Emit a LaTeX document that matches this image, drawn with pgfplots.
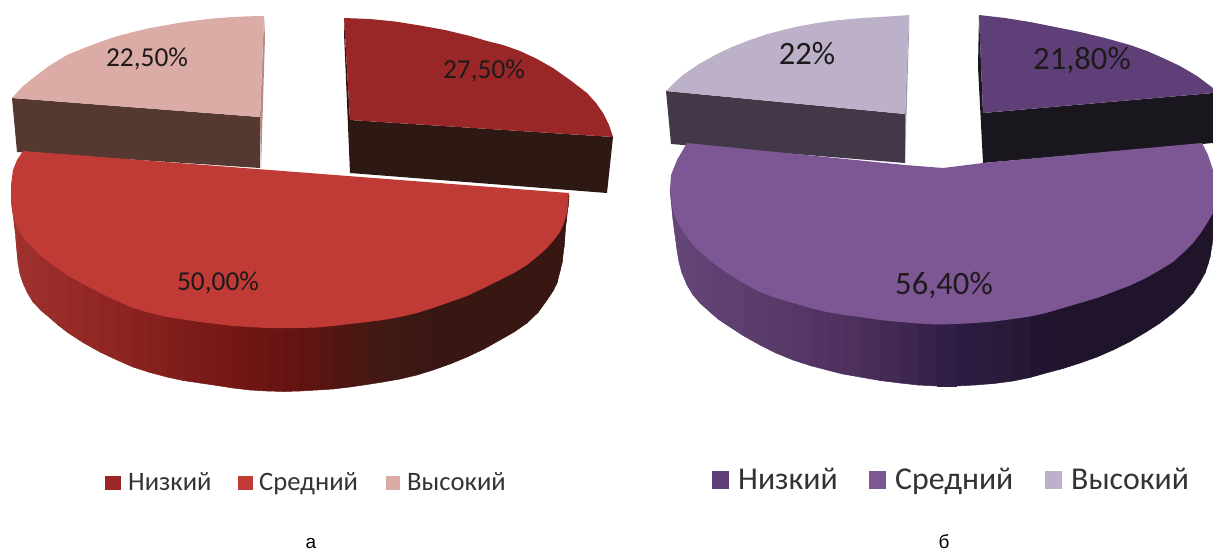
\documentclass[border=0pt]{standalone}
\usepackage{pgfplots}
\usepgfplotslibrary{patchplots}
\pgfplotsset{compat=1.18}
\usepackage{fontspec}
\setmainfont{Carlito}
\newfontfamily\capfont{Liberation Sans}
\definecolor{redlow}{HTML}{9A2727}
\definecolor{redmid}{HTML}{C03A36}
\definecolor{redhigh}{HTML}{DBACA6}
\definecolor{redside}{HTML}{553830}
\definecolor{reddark}{HTML}{2E1813}
\definecolor{redthin}{HTML}{B58C84}
\definecolor{vioslow}{HTML}{5F3F78}
\definecolor{viosmid}{HTML}{7D5694}
\definecolor{vioshigh}{HTML}{BDB0C9}
\definecolor{viosside}{HTML}{423848}
\definecolor{viosdark}{HTML}{1A161E}
\definecolor{viosthin}{HTML}{9E93A9}
\definecolor{labelink}{HTML}{1E1A1C}
\definecolor{legendink}{HTML}{333333}
\pgfplotsset{
  colormap={rim}{
    rgb255(0pt)=(163,51,49);
    rgb255(110pt)=(143,38,35);
    rgb255(245pt)=(112,22,20);
    rgb255(300pt)=(98,20,18);
    rgb255(380pt)=(66,24,20);
    rgb255(440pt)=(56,23,18);
    rgb255(620pt)=(56,23,18);
    rgb255(665pt)=(101,71,122);
    rgb255(760pt)=(90,60,108);
    rgb255(860pt)=(76,47,92);
    rgb255(960pt)=(46,28,66);
    rgb255(1015pt)=(40,25,56);
    rgb255(1045pt)=(32,20,46);
    rgb255(1215pt)=(31,20,40)
  }
}
\begin{document}
\begin{tikzpicture}
\begin{axis}[
  scale only axis, width=1213pt, height=552pt,
  xmin=0, xmax=1213, ymin=0, ymax=552, y dir=reverse,
  hide axis, clip=true,
  colormap name=rim, point meta min=0, point meta max=1215,
]
% keep the full drawing area as the picture's extent
\path (axis cs:0,0) rectangle (axis cs:1213,552);
% --- pie a: detached slices ---
\addplot[fill=redside, draw=none] coordinates {(12,98)(260,117)(260,168)(17,152)} --cycle;
\addplot[fill=redthin, draw=none] coordinates {(264,16)(265,37)(261,168)(260,117)} --cycle;
\addplot[fill=redhigh, draw=none] coordinates {(12,98)(22,87)(33,78)(49,66)(67,55)(84,48)(100,42)(116,36.5)(133,32)(150,28)(167,25)(184,22)(200,20)(216,18.2)(233,17)(248,16.3)(264,16)(260,117)} --cycle;
\addplot[fill=reddark, draw=none] coordinates {(350,120)(613,137)(607,193)(350,173)} --cycle;
\addplot[fill=reddark, draw=none] coordinates {(344,18)(344,33)(350,173)(350,120)} --cycle;
\addplot[fill=redlow, draw=none] coordinates {(344,18)(370,19)(395,21.5)(420,25.5)(445,30)(470,36)(487,41)(503,45)(520,51)(537,59)(553,68)(570,80)(587,93)(596,103)(603,113)(609,125)(613,137)(350,120)} --cycle;
% --- pie b: detached slices ---
\addplot[fill=viosside, draw=none] coordinates {(666,91)(905,114)(905,163)(671,144)} --cycle;
\addplot[fill=viosthin, draw=none] coordinates {(909,15)(909,33)(905,163)(905,114)} --cycle;
\addplot[fill=vioshigh, draw=none] coordinates {(666,91)(674,83)(683,75)(699,64)(717,54)(733,46.5)(750,40)(766,34.5)(783,30)(800,26)(817,23)(833,20.7)(850,19)(866,17.8)(883,16.8)(896,16)(909,15)(905,114)} --cycle;
\addplot[fill=viosdark, draw=none] coordinates {(983,113)(1213,93)(1213,143)(1202,144)(983,163)} --cycle;
\addplot[fill=viosdark, draw=none] coordinates {(979,15)(978,67)(983,163)(983,113)} --cycle;
\addplot[fill=vioslow, draw=none] coordinates {(979,15)(1005,18)(1030,22)(1055,27)(1080,32)(1105,38)(1130,45)(1147,51)(1163,58)(1180,66)(1197,76)(1213,88)(1213,93)(983,113)} --cycle;
% --- shaded rims of the large slices, one strip per four points ---
\addplot[patch, patch type=rectangle, shader=faceted, faceted color=mapped color, line width=0.5pt, point meta=x] coordinates {
(11,197)(13,197)(13,214)(11,197)
(13,195)(15,195)(15,230)(13,214)
(15,195)(16.5,195)(16.5,247)(15,230)
(16.5,195)(18,195)(18,263)(16.5,247)
(18,195)(20,195)(20,274)(18,263)
(20,195)(23,195)(23,283)(20,274)
(23,195)(27.5,195)(27.5,293)(23,283)
(27.5,195)(33,195)(33,302)(27.5,293)
(33,195)(41,195)(41,310.5)(33,302)
(41,195)(50,195)(50,318)(41,310.5)
(50,195)(58,195)(58,325)(50,318)
(58,195)(67,195)(67,332)(58,325)
(67,195)(83,195)(83,342.5)(67,332)
(83,195)(100,195)(100,352)(83,342.5)
(100,195)(117,195)(117,360)(100,352)
(117,195)(133,195)(133,367)(117,360)
(133,195)(150,195)(150,372.5)(133,367)
(150,195)(167,195)(167,377)(150,372.5)
(167,195)(183,195)(183,380.5)(167,377)
(183,195)(200,195)(200,383)(183,380.5)
(200,195)(217,195)(217,385.5)(200,383)
(217,195)(233,195)(233,388)(217,385.5)
(233,195)(250,195)(250,390)(233,388)
(250,195)(267,195)(267,391)(250,390)
(267,195)(284,195)(284,391.5)(267,391)
(284,195)(300,195)(300,391)(284,391.5)
(300,195)(317,195)(317,390)(300,391)
(317,195)(333,195)(333,389)(317,390)
(333,195)(350,195)(350,387)(333,389)
(350,195)(367,195)(367,384.5)(350,387)
(367,195)(383,195)(383,382)(367,384.5)
(383,195)(400,195)(400,379)(383,382)
(400,195)(417,195)(417,375)(400,379)
(417,195)(433,195)(433,370)(417,375)
(433,195)(450,195)(450,364)(433,370)
(450,195)(467,195)(467,357)(450,364)
(467,195)(484,195)(484,349)(467,357)
(484,195)(500,195)(500,340)(484,349)
(500,195)(514,195)(514,332)(500,340)
(514,195)(527,195)(527,323)(514,332)
(527,195)(538,195)(538,312.5)(527,323)
(538,195)(547,195)(547,300)(538,312.5)
(547,195)(553,195)(553,291)(547,300)
(553,195)(557,195)(557,283)(553,291)
(557,195)(560,195)(560,271)(557,283)
(560,195)(562,195)(562,263)(560,271)
(562,195)(564,195)(564,247)(562,263)
(564,195)(566,195)(566,223)(564,247)
(566,195)(568,195)(568,207)(566,223)
(568,195)(569,195)(569,197)(568,207)
};
\addplot[patch, patch type=rectangle, shader=faceted, faceted color=mapped color, line width=0.5pt, point meta=x] coordinates {
(670,190)(671.5,195)(671.5,205)(670,190)
(671.5,195)(673,195)(673,220)(671.5,205)
(673,195)(675,195)(675,235)(673,220)
(675,195)(677,195)(677,250)(675,235)
(677,195)(679,195)(679,262)(677,250)
(679,195)(682,195)(682,273)(679,262)
(682,195)(687,195)(687,285)(682,273)
(687,195)(693,195)(693,295)(687,285)
(693,195)(701,195)(701,304)(693,295)
(701,195)(710,195)(710,312)(701,304)
(710,195)(718,195)(718,319)(710,312)
(718,195)(727,195)(727,325)(718,319)
(727,195)(743,195)(743,335.5)(727,325)
(743,195)(760,195)(760,345)(743,335.5)
(760,195)(776,195)(776,353)(760,345)
(776,195)(793,195)(793,360)(776,353)
(793,195)(810,195)(810,365.5)(793,360)
(810,195)(827,195)(827,370)(810,365.5)
(827,195)(843,195)(843,374)(827,370)
(843,195)(860,195)(860,377)(843,374)
(860,195)(880,195)(880,380.5)(860,377)
(880,195)(900,195)(900,383)(880,380.5)
(900,195)(918,195)(918,385)(900,383)
(918,195)(937,195)(937,386)(918,385)
(937,195)(956,195)(956,386)(937,386)
(956,195)(975,195)(975,385)(956,386)
(975,195)(994,195)(994,383.5)(975,385)
(994,195)(1013,195)(1013,381)(994,383.5)
(1013,195)(1030,195)(1030,377.5)(1013,381)
(1030,195)(1046,195)(1046,373)(1030,377.5)
(1046,195)(1063,195)(1063,368.5)(1046,373)
(1063,195)(1080,195)(1080,363)(1063,368.5)
(1080,195)(1097,195)(1097,357)(1080,363)
(1097,195)(1113,195)(1113,350)(1097,357)
(1113,195)(1130,195)(1130,341.5)(1113,350)
(1130,195)(1146,195)(1146,332)(1130,341.5)
(1146,195)(1160,195)(1160,323)(1146,332)
(1160,195)(1173,195)(1173,313)(1160,323)
(1173,195)(1184,195)(1184,303)(1173,313)
(1184,195)(1193,195)(1193,293)(1184,303)
(1193,195)(1200,195)(1200,282)(1193,293)
(1200,195)(1205,195)(1205,273)(1200,282)
(1205,195)(1208,195)(1208,264)(1205,273)
(1208,195)(1210,195)(1210,257)(1208,264)
(1210,195)(1212,195)(1212,245)(1210,257)
(1212,195)(1213,195)(1213,232)(1212,245)
};
% --- top faces of the large slices ---
\addplot[fill=redmid, draw=none] coordinates {(23,151)(569,193)(568,204)(567,213)(564,223)(560,232)(554,240)(547,248)(538,256)(527,265)(514,273)(500,280)(484,288)(467,296)(450,302)(433,308)(417,313)(400,317)(383,320)(367,322)(350,324)(333,326)(316,327.5)(300,328)(267,328)(233,326)(200,322)(167,317)(150,313)(133,308)(117,301)(100,293)(83,284)(67,275)(50,263)(41,256)(33,248)(26,241)(20,232)(16,224)(13,215)(11.5,206)(11,197)(11,185)(13,170)(17,160)} --cycle;
\addplot[fill=viosmid, draw=none] coordinates {(687,143)(905,165)(943,168)(983,163)(1202,143)(1208,155)(1213,170)(1213,213)(1206,225)(1200,234)(1193,243)(1184,252)(1173,262)(1160,270)(1146,278)(1130,285.5)(1113,292)(1097,298)(1080,303)(1063,308)(1046,313)(1030,316.5)(1013,319)(994,321.5)(975,323)(956,324)(937,324.5)(918,323.5)(900,322)(880,320)(860,317)(843,315)(827,312)(810,308)(793,303)(776,298)(760,292)(743,283)(727,273)(713,263)(700,252)(693,245)(687,237)(682,230)(678,223)(674,214)(672,205)(670,190)(671,175)(677,160)} --cycle;
% --- legend swatches ---
\addplot[fill=redlow, draw=none] coordinates {(105,476)(121,476)(121,490)(105,490)} --cycle;
\addplot[fill=redmid, draw=none] coordinates {(238,476)(253,476)(253,490)(238,490)} --cycle;
\addplot[fill=redhigh, draw=none] coordinates {(386,476)(400,476)(400,490)(386,490)} --cycle;
\addplot[fill=vioslow, draw=none] coordinates {(712,471)(729,471)(729,489)(712,489)} --cycle;
\addplot[fill=viosmid, draw=none] coordinates {(869,471)(886,471)(886,489)(869,489)} --cycle;
\addplot[fill=vioshigh, draw=none] coordinates {(1045,471)(1062,471)(1062,489)(1045,489)} --cycle;
% --- value labels ---
\node[text=labelink, font=\fontsize{27.4}{30}\selectfont] at (axis cs:147,59) {22,50\%};
\node[text=labelink, font=\fontsize{27.4}{30}\selectfont] at (axis cs:484,71) {27,50\%};
\node[text=labelink, font=\fontsize{27.4}{30}\selectfont] at (axis cs:218,283) {50,00\%};
\node[text=labelink, font=\fontsize{32.6}{36}\selectfont] at (axis cs:807,54) {22\%};
\node[text=labelink, font=\fontsize{32.6}{36}\selectfont] at (axis cs:1082,60) {21,80\%};
\node[text=labelink, font=\fontsize{32.6}{36}\selectfont] at (axis cs:944,285) {56,40\%};
% --- legend texts ---
\node[text=legendink, font=\fontsize{26.6}{30}\selectfont, anchor=base west, inner sep=0pt] at (axis cs:128,490) {Низкий};
\node[text=legendink, font=\fontsize{26.6}{30}\selectfont, anchor=base west, inner sep=0pt] at (axis cs:259,490) {Средний};
\node[text=legendink, font=\fontsize{26.6}{30}\selectfont, anchor=base west, inner sep=0pt] at (axis cs:407,490) {Высокий};
\node[text=legendink, font=\fontsize{31.8}{34}\selectfont, anchor=base west, inner sep=0pt] at (axis cs:738,489) {Низкий};
\node[text=legendink, font=\fontsize{31.8}{34}\selectfont, anchor=base west, inner sep=0pt] at (axis cs:895,489) {Средний};
\node[text=legendink, font=\fontsize{31.8}{34}\selectfont, anchor=base west, inner sep=0pt] at (axis cs:1071,489) {Высокий};
% --- panel letters ---
\node[text=black, font=\capfont\fontsize{19}{22}\selectfont, anchor=base, inner sep=0pt] at (axis cs:311,548) {а};
\node[text=black, font=\capfont\fontsize{19}{22}\selectfont, anchor=base, inner sep=0pt] at (axis cs:944,548) {б};
\end{axis}
\end{tikzpicture}
\end{document}
